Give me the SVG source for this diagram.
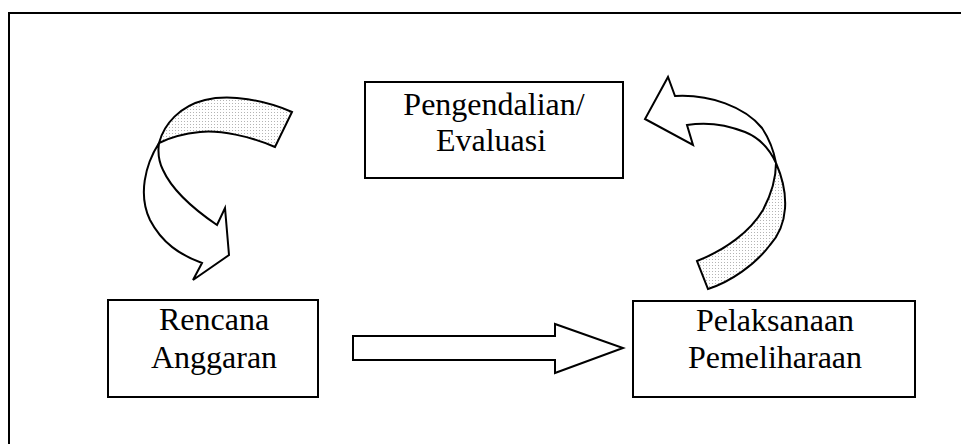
<svg xmlns="http://www.w3.org/2000/svg" width="961" height="444" viewBox="0 0 961 444">
<defs>
<pattern id="dots" width="3" height="3" patternUnits="userSpaceOnUse"><rect width="3" height="3" fill="#ffffff"/><rect x="1" y="1" width="1" height="1" fill="#b4b4b4"/></pattern>
<style>
.box{fill:#fff;stroke:#000;stroke-width:2}
.lbl{font-family:"Liberation Serif","Times New Roman",serif;font-size:32px;fill:#000;text-anchor:middle}
.face{fill:#fff;stroke:#000;stroke-width:2;stroke-linejoin:miter}
.band{fill:url(#dots);stroke:#000;stroke-width:2;stroke-linejoin:miter}
</style>
</defs>
<rect x="9" y="13" width="1000" height="500" fill="#fff" stroke="#000" stroke-width="2"/>
<g id="connectors">
<g id="arrow-left">
<path class="band" d="M292,112 C265,100 230,94 205,100 C180,106 164,124 159,143 C165,140 180,134 200,132 C220,130 250,136 275,147 Z"/>
<path class="face" d="M159,143 C145,165 138,195 150,220 C162,243 180,255 202,263 L193,280 L229,255 L225,208 L217,225 C195,210 172,190 163,170 C158,160 158,150 159,143 Z"/>
</g>
<g id="arrow-right">
<path class="band" d="M776,163 C790,195 788,225 770,245 C755,265 730,282 708,289 L697,261 C725,250 750,232 763,210 C772,193 776,178 776,163 Z"/>
<path class="face" d="M675,96 C710,94 745,107 762,128 C770,140 774,152 776,163 C770,150 760,138 745,132 C725,124 705,122 687,125 L693,145 L645,119 L668,77 Z"/>
</g>
<path id="arrow-bottom" class="face" d="M353,336 L555,336 L555,324 L623,348 L555,373 L555,360 L353,360 Z"/>
</g>
<g id="node-pengendalian">
<rect class="box" x="365" y="82" width="258" height="96"/>
<text class="lbl" x="494" y="115">Pengendalian/</text>
<text class="lbl" x="491" y="151">Evaluasi</text>
</g>
<g id="node-rencana">
<rect class="box" x="108" y="300" width="210" height="97"/>
<text class="lbl" x="214" y="330">Rencana</text>
<text class="lbl" x="214" y="368">Anggaran</text>
</g>
<g id="node-pelaksanaan">
<rect class="box" x="633" y="301" width="282" height="96"/>
<text class="lbl" x="775" y="331">Pelaksanaan</text>
<text class="lbl" x="775" y="368">Pemeliharaan</text>
</g>
</svg>
